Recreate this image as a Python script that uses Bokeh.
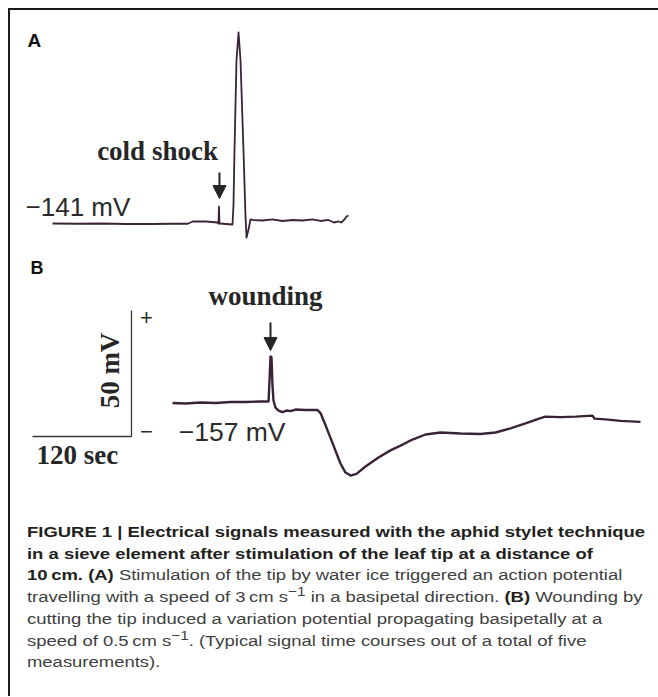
from bokeh.plotting import figure
from bokeh.models import Range1d, Arrow, NormalHead, Div, ColumnDataSource
from bokeh.layouts import column
from bokeh.core.properties import value
from bokeh.embed import file_html
from bokeh.resources import INLINE
import math

# ---------------- data (time in s, membrane potential in mV) ----------------
# Panel A: cold shock -> action potential
a_time = [0, 30, 58, 90, 119, 145, 164, 170, 186, 200, 201.2, 201.8, 202.4, 210, 218.2,
          219.4, 220.6, 223, 225.5, 227.9, 231.5, 233.9, 235.2, 237.6, 240,
          242.4, 254.5, 266.7, 278.8, 290.9, 303, 315.2, 324.8, 334.5, 341.2,
          346.7, 350.3, 353.9, 356.4, 358.8]
a_mv = [-141, -141.1, -141, -141.2, -141.2, -141.1, -141.1, -140.2, -140.2, -140.6,
        -141, -134.3, -141, -141.2, -141.4,
        -133.5, -112, -76.3, -65.2, -76.3, -112, -137.8, -146.6, -143.4, -139.4,
        -139.6, -139.8, -139.4, -140, -139.6, -139.8, -139.4, -140, -139.6, -140.6,
        -140.2, -140.6, -139.4, -138.2, -137.8]
a_rest_label = "\u2212141 mV"
a_stimulus = "cold shock"
a_stim_time = 202.4

# Panel B: wounding -> variation potential
b_time = [0, 15.8, 33.9, 52.1, 70.3, 88.5, 106.7, 116.4, 117.6, 118.8, 120, 121.2,
          122.4, 124.8, 128.5, 133.3, 138.2, 143, 149.1, 161.2, 175.8, 179.4, 185.5,
          194, 203.6, 209.7, 215.8, 223, 233.9, 249.7, 264.2, 276.4, 290.9, 306.7,
          324.8, 349.1, 373.3, 391.5, 409.7, 427.9, 446.1, 452.1, 470.3, 488.5,
          509.1, 511.5, 524.8, 543, 555.2, 567.3]
b_mv = [-157.2, -157.4, -157, -157.2, -156.8, -156.8, -156.6, -156.6, -148.3, -138.7,
        -139.1, -150.3, -156.2, -159, -160.2, -160.8, -160.2, -160.4, -159.8, -160,
        -160, -161.2, -166, -173.1, -181.2, -184.8, -186, -185.3, -182.4, -178.8,
        -176, -174.1, -171.7, -169.7, -168.9, -169.3, -169.5, -168.9, -167.3,
        -165.3, -163.2, -162.6, -162.8, -162.6, -162.2, -163.4, -163.7, -164.3,
        -164.5, -164.7]
b_rest_label = "\u2212157 mV"
b_stimulus = "wounding"
b_stim_time = 118.8

# scale bars
scale_sec = 120
scale_mv = 50
scale_t0 = -169.7
scale_v0 = -170.5

TRACE = "#3a2336"
INK = "#262626"
SERIF = value("Liberation Serif")
SANS = value("Liberation Sans")


def make_fig(h, xr, yr):
    f = figure(width=638, height=h, x_range=Range1d(*xr), y_range=Range1d(*yr),
               output_backend="svg", toolbar_location=None,
               x_axis_location=None, y_axis_location=None, min_border=0,
               outline_line_color=None, background_fill_color="white",
               border_fill_color="white")
    f.grid.visible = False
    return f


# ---------------- Panel A ----------------
pa = make_fig(240, (-50.91, 722.42), (-151.71, -56.48))
pa.line(a_time, a_mv, line_color=TRACE, line_width=1.8, line_join="round")
pa.add_layout(Arrow(end=NormalHead(size=13, fill_color=INK, line_color=INK),
                    x_start=a_stim_time, y_start=-120.8, x_end=a_stim_time, y_end=-131.1,
                    line_color=INK, line_width=2))
pa.text(x=[-30.3], y=[-68.4], text=["A"], text_font=SANS, text_font_style="bold",
        text_font_size="19px", text_color="#111", text_baseline="alphabetic")
pa.text(x=[127.3], y=[-112.4], text=[a_stimulus], text_font=SERIF, text_font_style="bold",
        text_font_size="27px", text_color=INK, text_align="center", text_baseline="alphabetic")
pa.text(x=[-32.7], y=[-134.6], text=[a_rest_label], text_font=SANS,
        text_font_size="26px", text_color="#2a2a2a", text_baseline="alphabetic")

# ---------------- Panel B ----------------
pb = make_fig(250, (-196.36, 576.97), (-195.89, -96.68))
pb.line(b_time, b_mv, line_color=TRACE, line_width=2.4, line_join="round")
pb.add_layout(Arrow(end=NormalHead(size=13, fill_color=INK, line_color=INK),
                    x_start=b_stim_time, y_start=-125.3, x_end=b_stim_time, y_end=-136.4,
                    line_color=INK, line_width=2))
sb = ColumnDataSource(dict(x0=[scale_t0, scale_t0 + scale_sec],
                           y0=[scale_v0, scale_v0],
                           x1=[scale_t0 + scale_sec, scale_t0 + scale_sec],
                           y1=[scale_v0, scale_v0 + scale_mv]))
pb.segment("x0", "y0", "x1", "y1", source=sb, line_color="#3a3a3a", line_width=1.3)
pb.text(x=[-172.1], y=[-103.8], text=["B"], text_font=SANS, text_font_style="bold",
        text_font_size="18px", text_color="#111", text_baseline="alphabetic")
pb.text(x=[112.7], y=[-114.9], text=[b_stimulus], text_font=SERIF, text_font_style="bold",
        text_font_size="27px", text_color=INK, text_align="center", text_baseline="alphabetic")
pb.text(x=[-31.5, -31.5], y=[-123.3, -168.5], text=["+", "\u2212"], text_font=SANS,
        text_font_size="22px", text_color="#2a2a2a", text_align="center", text_baseline="middle")
pb.text(x=[7.5], y=[-168.9], text=[b_rest_label], text_font=SANS,
        text_font_size="26.5px", text_color="#2a2a2a", text_baseline="alphabetic")
pb.text(x=[-164.8], y=[-178.0], text=[f"{scale_sec} sec"], text_font=SERIF,
        text_font_style="bold", text_font_size="27px", text_color=INK,
        text_baseline="alphabetic")
pb.text(x=[-76.3], y=[-144.3], text=[f"{scale_mv} mV"], text_font=SERIF,
        text_font_style="bold", text_font_size="27px", text_color=INK,
        text_align="center", text_baseline="alphabetic", angle=math.pi / 2)

# ---------------- Caption ----------------
caption = (
    '<div style="padding:16px 0 0 12px;">'
    '<div style="transform:scaleX(1.19); transform-origin:0 0; font-family:\'Liberation Sans\', Arial, sans-serif;'
    ' font-size:15.5px; line-height:21.7px; color:#404040; white-space:nowrap;">'
    '<b style="color:#231f20">FIGURE 1 | Electrical signals measured with the aphid stylet technique<br>'
    'in a sieve element after stimulation of the leaf tip at a distance of<br>'
    '10&thinsp;cm.</b> <b style="color:#231f20">(A)</b> Stimulation of the tip by water ice triggered an action potential<br>'
    'travelling with a speed of 3&thinsp;cm s<sup style="line-height:0">\u22121</sup> in a basipetal direction. '
    '<b style="color:#231f20">(B)</b> Wounding by<br>'
    'cutting the tip induced a variation potential propagating basipetally at a<br>'
    'speed of 0.5&thinsp;cm s<sup style="line-height:0">\u22121</sup>. (Typical signal time courses out of a total of five<br>'
    'measurements).</div></div>'
)
cap = Div(text=caption, width=638, height=186)

layout = column(pa, pb, cap, margin=(8, 0, 0, 8),
                styles={"border-top": "2px solid #1a1a1a",
                        "border-left": "2px solid #1a1a1a"})

open("out.html", "w").write(file_html(layout, INLINE))
